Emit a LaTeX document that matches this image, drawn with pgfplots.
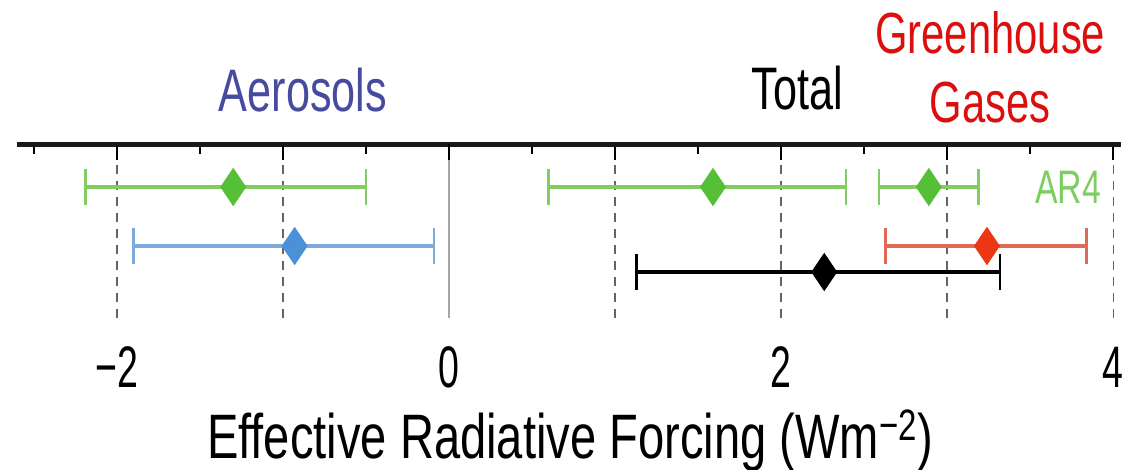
\documentclass[border=0pt]{standalone}
\usepackage{fontspec}
\setmainfont{Liberation Sans}
\newfontfamily\titlefont[FakeStretch=0.72]{Liberation Sans}
\newfontfamily\tickfont[FakeStretch=0.64]{Liberation Sans}
\newfontfamily\labfont[FakeStretch=0.75]{Liberation Sans}
\usepackage{pgfplots}
\pgfplotsset{compat=1.18}
\definecolor{arline}{RGB}{130,205,95}
\definecolor{ardia}{RGB}{85,192,55}
\definecolor{blline}{RGB}{125,170,220}
\definecolor{bldia}{RGB}{75,145,215}
\definecolor{rdline}{RGB}{225,105,85}
\definecolor{rddia}{RGB}{235,55,20}
\definecolor{aertxt}{RGB}{70,75,160}
\definecolor{ghgtxt}{RGB}{220,15,15}
\definecolor{artxt}{RGB}{125,205,95}
\begin{document}
\begin{tikzpicture}
\path[use as bounding box] (-8.7bp,72bp) rectangle (552.3bp,-163bp);
\begin{axis}[
  at={(0,0)}, anchor=north west,
  scale only axis, width=552bp, height=87bp,
  xmin=-2.6, xmax=4.05, ymin=-174, ymax=0,
  clip=false,
  axis x line*=top, axis y line=none,
  x axis line style={-, line width=2.5bp, color=black!90},
  xtick={-2,-1,1,2,3,4},
  minor xtick={-2.5,-1.5,-0.5,0.5,1.5,2.5,3.5},
  extra x ticks={0}, extra x tick labels={},
  extra x tick style={grid=major, major grid style={solid, line width=1bp, color=black!35}},
  xticklabels={},
  tick align=inside,
  major tick length=8bp, minor tick length=5bp,
  every tick/.style={line width=1bp, black},
  xmajorgrids=true,
  major grid style={line width=0.6bp, color=black!60, dash pattern=on 4.5bp off 3.5bp},
]
% AR4 (green)
\addplot[arline, line width=2bp, mark=|, mark size=9bp, mark options={line width=1.2bp, solid}] coordinates {(-2.19,-43) (-0.50,-43)};
\addplot[arline, line width=2bp, mark=|, mark size=9bp, mark options={line width=1.2bp, solid}] coordinates {(0.60,-43) (2.39,-43)};
\addplot[arline, line width=2bp, mark=|, mark size=9bp, mark options={line width=1.2bp, solid}] coordinates {(2.59,-43) (3.19,-43)};
\addplot[only marks, mark=diamond*, mark size=9.25bp, color=ardia, mark options={xscale=0.9}] coordinates {(-1.30,-43) (1.59,-43) (2.89,-43)};
% Aerosols (blue)
\addplot[blline, line width=2bp, mark=|, mark size=9bp, mark options={line width=1.2bp, solid}] coordinates {(-1.90,-102) (-0.09,-102)};
\addplot[only marks, mark=diamond*, mark size=9.25bp, color=bldia, mark options={xscale=0.9}] coordinates {(-0.93,-102)};
% GHG (red)
\addplot[rdline, line width=2bp, mark=|, mark size=9bp, mark options={line width=1.2bp, solid}] coordinates {(2.63,-102) (3.84,-102)};
\addplot[only marks, mark=diamond*, mark size=9.25bp, color=rddia, mark options={xscale=0.9}] coordinates {(3.24,-102)};
% Total (black)
\addplot[black, line width=2bp, mark=|, mark size=9bp, mark options={line width=1.2bp, solid}] coordinates {(1.13,-128) (3.32,-128)};
\addplot[only marks, mark=diamond*, mark size=9.25bp, color=black, mark options={xscale=0.9}] coordinates {(2.26,-128)};
% titles
\node[anchor=base, inner sep=0pt, text=aertxt, font=\titlefont\fontsize{30bp}{36bp}\selectfont] at (axis cs:-0.88,33) {Aerosols};
\node[anchor=base, inner sep=0pt, text=black, font=\titlefont\fontsize{30bp}{36bp}\selectfont] at (axis cs:2.096,35) {Total};
\node[anchor=base, inner sep=0pt, text=ghgtxt, font=\titlefont\fontsize{29bp}{36bp}\selectfont] at (axis cs:3.26,91) {Greenhouse};
\node[anchor=base, inner sep=0pt, text=ghgtxt, font=\titlefont\fontsize{29bp}{36bp}\selectfont] at (axis cs:3.26,22) {Gases};
\node[anchor=base, inner sep=0pt, text=artxt, font=\titlefont\fontsize{23.5bp}{28bp}\selectfont] at (axis cs:3.73,-59) {AR4};
% tick labels
\node[anchor=base, inner sep=0pt, font=\tickfont\fontsize{29.3bp}{34bp}\selectfont] at (axis cs:-2,-243) {−2};
\node[anchor=base, inner sep=0pt, font=\tickfont\fontsize{29.3bp}{34bp}\selectfont] at (axis cs:0,-243) {0};
\node[anchor=base, inner sep=0pt, font=\tickfont\fontsize{29.3bp}{34bp}\selectfont] at (axis cs:2,-243) {2};
\node[anchor=base, inner sep=0pt, font=\tickfont\fontsize{29.3bp}{34bp}\selectfont] at (axis cs:4,-243) {4};
% axis label
\node[anchor=base, inner sep=0pt, font=\labfont\fontsize{31.4bp}{36bp}\selectfont] at (axis cs:0.73,-314) {Effective Radiative Forcing (Wm\textsuperscript{−2})};
\end{axis}
\end{tikzpicture}
\end{document}
